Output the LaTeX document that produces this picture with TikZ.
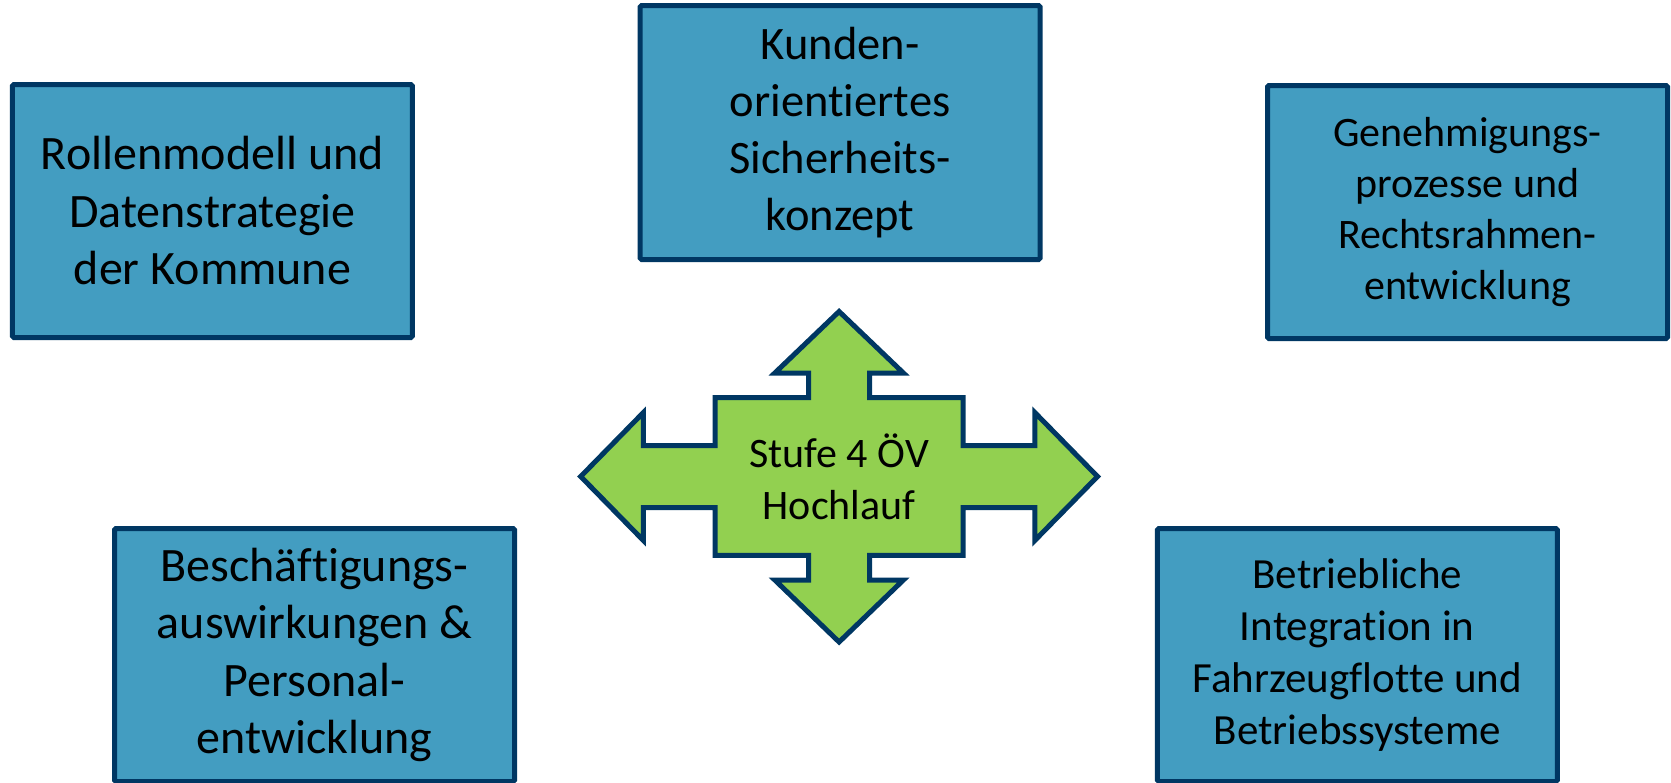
\documentclass[tikz,border=0pt]{standalone}
\usepackage{fontspec}
\setmainfont{Carlito}[RawFeature=-liga]
\definecolor{boxfill}{HTML}{439DC1}
\definecolor{boxline}{HTML}{003763}
\definecolor{arrowfill}{HTML}{92D050}
\begin{document}
\begin{tikzpicture}[x=1pt,y=-1pt,
  topicbox/.style={draw=boxline, fill=boxfill, line width=5pt, rounded corners=1.5pt,
    align=center, inner sep=0pt, text=black, minimum width=400pt, minimum height=253pt},
  bigtext/.style={font=\fontsize{48}{57.5}\selectfont},
  midtext/.style={font=\fontsize{46.5}{57}\selectfont},
  smalltext/.style={font=\fontsize{42}{51}\selectfont},
  quadarrow/.style={draw=boxline, fill=arrowfill, line width=5pt, line join=miter}]
\useasboundingbox (0,0) rectangle (1671,782);

\node[topicbox, bigtext] (rollen) at (212.4,211)
  {Rollenmodell und\\Datenstrategie\\der Kommune};
\node[topicbox, midtext, minimum height=254pt] (kunden) at (840.1,132.5)
  {Kunden-\\orientiertes\\Sicherheits-\\konzept};
\node[topicbox, smalltext] (genehm) at (1467.5,212)
  {Genehmigungs-\\prozesse und\\Rechtsrahmen-\\entwicklung};
\node[topicbox, bigtext] (besch) at (314.5,655)
  {Beschäftigungs-\\auswirkungen \&\\Personal-\\entwicklung};
\node[topicbox, font=\fontsize{43}{51.7}\selectfont] (betrieb) at (1357.3,655)
  {Betriebliche\\Integration in\\Fahrzeugflotte und\\Betriebssysteme};

% quad arrow centred at (839.1,476.5)
\begin{scope}[shift={(839.1,476.5)}]
\draw[quadarrow]
  (-258.4,0) -- (-195.7,-64) -- (-195.7,-31) -- (-124,-31) -- (-124,-78.8)
  -- (-30.4,-78.8) -- (-30.4,-103.5) -- (-64.3,-103.5) -- (0,-165) -- (64.3,-103.5)
  -- (30.4,-103.5) -- (30.4,-78.8) -- (124,-78.8) -- (124,-31) -- (195.7,-31)
  -- (195.7,-64) -- (258.4,0) -- (195.7,64) -- (195.7,31) -- (124,31) -- (124,78.8)
  -- (30.4,78.8) -- (30.4,103.5) -- (64.3,103.5) -- (0,165.5) -- (-64.3,103.5)
  -- (-30.4,103.5) -- (-30.4,78.8) -- (-124,78.8) -- (-124,31) -- (-195.7,31)
  -- (-195.7,64) -- cycle;
\node[align=center, inner sep=0pt, font=\fontsize{42}{52}\selectfont] (stufe) at (0,0)
  {Stufe 4 ÖV\\Hochlauf};
\end{scope}
\end{tikzpicture}
\end{document}
